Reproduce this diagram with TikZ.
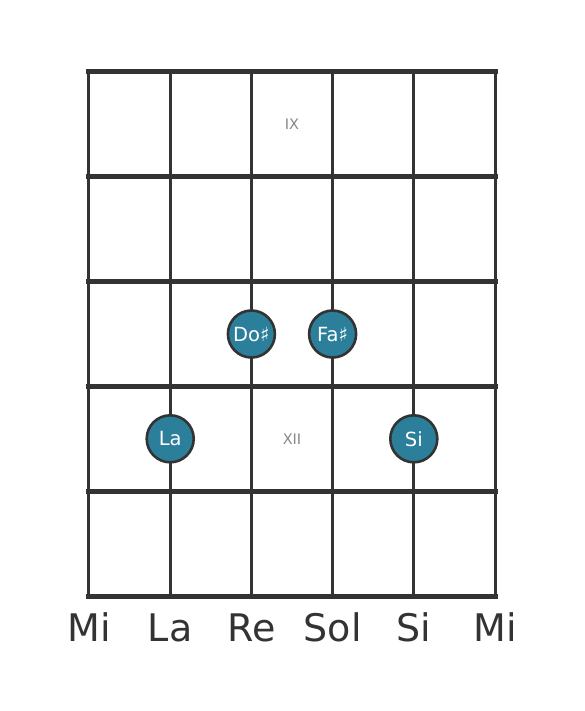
\documentclass[tikz,border=0pt]{standalone}
\usepackage{fontspec}
\setmainfont{DejaVu Sans}
\definecolor{fretdark}{HTML}{333333}
\definecolor{noteteal}{HTML}{2B7F9B}
\definecolor{posgray}{HTML}{888888}
\tikzset{
  note/.style={circle, draw=fretdark, line width=2.6pt, fill=noteteal, text=white,
    minimum size=47pt, inner sep=0pt, font=\fontsize{19.5}{19.5}\selectfont},
  fretpos/.style={text=posgray, font=\fontsize{14.5}{14.5}\selectfont},
  strname/.style={text=fretdark, font=\fontsize{38}{38}\selectfont}
}
\begin{document}
\begin{tikzpicture}[x=81.2pt, y=104.8pt]
			\useasboundingbox (-1.096,-1.097) rectangle (6.096,5.687);

			% strings
			\foreach \s in {0,...,5}
				\draw [fretdark, line width=3pt] (\s,0) -- (\s,5) ;

			% frets
			\foreach \f in {0,...,5}
				\draw [fretdark, line width=5pt, line cap=rect] (0,\f) -- (5,\f) ;

			% fret numbers
			\node[fretpos] (nine) at (2.5,4.5) {IX} ;
			\node[fretpos] (twelve) at (2.5,1.5) {XII} ;

			% notes
			\node[note] (dos) at (2,2.5) {Do♯} ;
			\node[note] (fas) at (3,2.5) {Fa♯} ;
			\node[note] (la) at (1,1.5) {La} ;
			\node[note] (si) at (4,1.5) {Si} ;

			% string names
			\node[strname] (mi1) at (0,-0.3) {Mi} ;
			\node[strname] (la1) at (1,-0.3) {La} ;
			\node[strname] (re1) at (2,-0.3) {Re} ;
			\node[strname] (sol1) at (3,-0.3) {Sol} ;
			\node[strname] (si1) at (4,-0.3) {Si} ;
			\node[strname] (mi2) at (5,-0.3) {Mi} ;

		\end{tikzpicture}
\end{document}
